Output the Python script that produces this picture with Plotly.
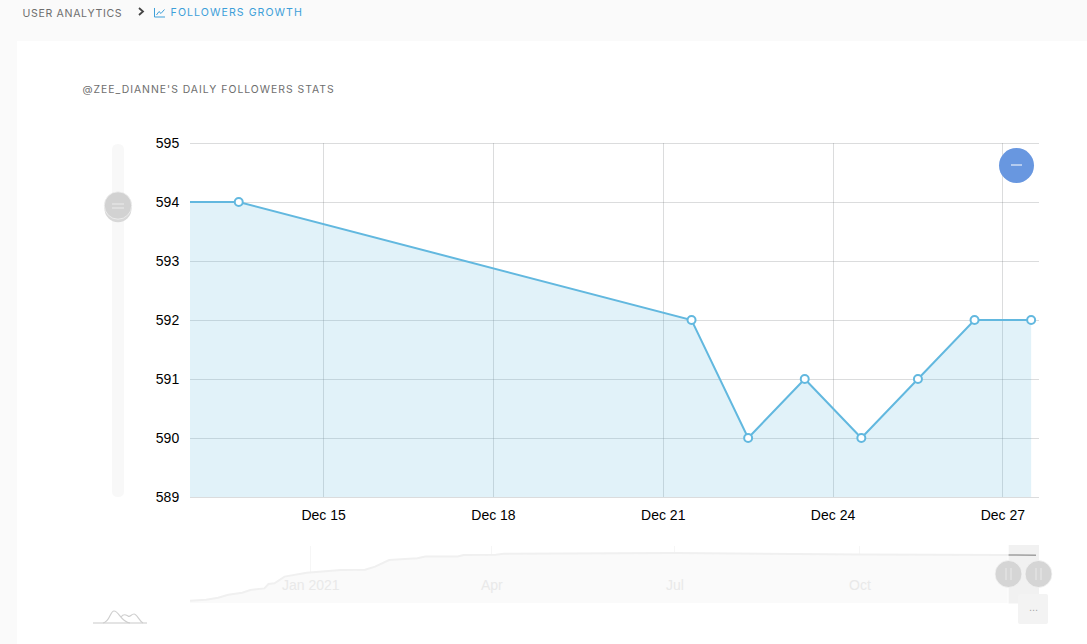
import plotly.graph_objects as go

W, H = 1087, 644

# Main series
dates = ["2021-12-12 12:00", "2021-12-13 12:00", "2021-12-21 12:00", "2021-12-22 12:00",
         "2021-12-23 12:00", "2021-12-24 12:00", "2021-12-25 12:00", "2021-12-26 12:00", "2021-12-27 12:00"]
followers = [594, 594, 592, 590, 591, 590, 591, 592, 592]

# Overview series
overview_dates = ["2020-11-02", "2020-11-10", "2020-11-16", "2020-11-21", "2020-11-28", "2020-12-02",
                  "2020-12-09", "2020-12-11", "2020-12-14", "2020-12-19", "2020-12-30", "2021-01-11",
                  "2021-01-16", "2021-01-28", "2021-02-02", "2021-02-09", "2021-02-23", "2021-02-27",
                  "2021-03-15", "2021-03-18", "2021-04-03", "2021-04-07", "2021-05-16", "2021-07-01",
                  "2021-10-01", "2021-12-14"]
overview_values = [29, 41, 66, 103, 128, 161, 181, 235, 243, 326, 375, 392, 408, 412, 450, 532, 553, 574,
                   574, 594, 598, 610, 615, 618, 600, 594]
overview_tick_vals = ["2021-01-01", "2021-04-01", "2021-07-01", "2021-10-01"]
overview_tick_text = ["Jan 2021", "Apr", "Jul", "Oct"]

GRID = "rgba(110,115,120,0.25)"

def px(x): return x / W
def py(y): return 1 - y / H

fig = go.Figure()
fig.add_trace(go.Scatter(x=dates, y=followers, mode="lines+markers", fill="tozeroy",
                         fillcolor="rgba(96,184,222,0.19)",
                         line=dict(color="#62b8df", width=2),
                         marker=dict(size=8, color="white", line=dict(color="#62b8df", width=2)),
                         cliponaxis=True, xaxis="x", yaxis="y", hoverinfo="skip"))
fig.add_trace(go.Scatter(x=overview_dates, y=overview_values, mode="lines", fill="tozeroy",
                         fillcolor="#fafafa", line=dict(color="#f0f0f0", width=2),
                         xaxis="x2", yaxis="y2", hoverinfo="skip"))
fig.add_trace(go.Scatter(x=dates[1:], y=followers[1:], mode="lines",
                         line=dict(color="#aaaaaa", width=1.5),
                         xaxis="x2", yaxis="y2", hoverinfo="skip"))

def rect(x0, y0, x1, y1, color, layer="above"):
    return dict(type="rect", xref="paper", yref="paper", x0=px(x0), x1=px(x1), y0=py(y1), y1=py(y0),
                fillcolor=color, line_width=0, layer=layer)

def circle(cx, cy, r, color, lw=0, lc="white"):
    return dict(type="circle", xref="paper", yref="paper", x0=px(cx - r), x1=px(cx + r),
                y0=py(cy + r), y1=py(cy - r), fillcolor=color, line=dict(width=lw, color=lc), layer="above")

def seg(x0, y0, x1, y1, color, w=1):
    return dict(type="line", xref="paper", yref="paper", x0=px(x0), x1=px(x1), y0=py(y0), y1=py(y1),
                line=dict(color=color, width=w), layer="above")

def path(points, color, w=1.5, fill=None, layer="above"):
    d = ""
    for cmd, *vals in points:
        d += cmd + " " + " ".join(f"{px(vals[i]):.5f},{py(vals[i+1]):.5f}" for i in range(0, len(vals), 2)) + " "
    return dict(type="path", xref="paper", yref="paper", path=d.strip(),
                line=dict(color=color, width=w), fillcolor=fill, layer=layer)

def rrect(x0, y0, x1, y1, r, color):
    return path([("M", x0 + r, y0), ("L", x1 - r, y0), ("Q", x1, y0, x1, y0 + r), ("L", x1, y1 - r),
                 ("Q", x1, y1, x1 - r, y1), ("L", x0 + r, y1), ("Q", x0, y1, x0, y1 - r), ("L", x0, y0 + r),
                 ("Q", x0, y0, x0 + r, y0), ("Z",)], "rgba(0,0,0,0)", 0, color)

shapes = [
    rect(17, 41, W, H, "white", "below"),
    seg(190, 143.5, 1039, 143.5, GRID, 1),
    seg(190, 497.5, 1039, 497.5, GRID, 1),
    rrect(112, 144, 124, 497, 6, "#f8f8f8"),
    circle(118, 208.8, 13.5, "#d8d8d8"),
    circle(118, 205.5, 13.7, "#d2d2d2", 0.8, "#f0f0f0"),
    seg(112, 204, 124, 204, "#ececec", 1),
    seg(112, 208, 124, 208, "#ececec", 1),
    circle(1016.5, 165.5, 17.5, "#6897e0"),
    seg(1011, 165, 1022, 165, "white", 1),
    rect(1008.5, 545, 1039, 603.5, "rgba(0,0,0,0.055)"),
    seg(1008, 545, 1008, 603.5, "rgba(255,255,255,0.9)", 1),
    circle(1008.5, 574, 13.5, "#d5d5d5", 0.8, "#f4f4f4"),
    circle(1038.5, 574, 13.5, "#d5d5d5", 0.8, "#f4f4f4"),
    seg(1006, 568, 1006, 580, "#e6e6e6", 1.2),
    seg(1011, 568, 1011, 580, "#e6e6e6", 1.2),
    seg(1036, 568, 1036, 580, "#e6e6e6", 1.2),
    seg(1041, 568, 1041, 580, "#e6e6e6", 1.2),
    rrect(1018, 594, 1048, 624, 2, "#f3f3f3"),
    seg(93, 623, 147, 623, "#c9c9c9", 1.2),
    path([("M", 103, 623), ("C", 110, 622, 110, 611, 114, 611), ("C", 119, 611, 121, 622, 130, 623)], "#cfcfcf", 1.2),
    path([("M", 121, 617), ("C", 124, 613, 126, 615, 128, 616), ("C", 130, 618, 131, 614, 134, 614),
          ("C", 137, 614, 139, 621, 143, 623)], "#cfcfcf", 1.2),
    path([("M", 139, 8), ("L", 143, 11.5), ("L", 139, 15)], "#444444", 1.8),
    path([("M", 154.5, 8), ("L", 154.5, 17), ("L", 165, 17)], "#3d9fd9", 1),
    path([("M", 156.5, 15), ("L", 159, 11.5), ("L", 161, 13.5), ("L", 164.5, 9.5)], "#3d9fd9", 1),
]

def note(x, y, text, size, color, family, anchor="left"):
    return dict(xref="paper", yref="paper", x=px(x), y=py(y), text=text, showarrow=False, xanchor=anchor,
                yanchor="middle", font=dict(size=size, color=color, family=family), borderpad=0, borderwidth=0)

annotations = [
    note(26.5, 13.5, "USER ANALYTICS", 10.6, "#6e6e6e", "Inter"),
    note(179, 12.5, "FOLLOWERS GROWTH", 10.6, "#3d9fd9", "Inter"),
    note(99.5, 89.5, "@ZEE_DIANNE'S DAILY FOLLOWERS STATS", 10.4, "#6e6e6e", "Inter"),
    note(1033, 607, "...", 11, "#aaaaaa", "Liberation Sans", "center"),
]

fig.update_layout(
    width=W, height=H, autosize=False, margin=dict(l=0, r=0, t=0, b=0, pad=0),
    paper_bgcolor="#fafafa", plot_bgcolor="rgba(0,0,0,0)", showlegend=False,
    font=dict(family="Liberation Sans", size=14, color="black"),
    shapes=shapes, annotations=annotations,
    xaxis=dict(domain=[px(190), px(1039)], type="date", automargin=False,
               range=["2021-12-12 15:20", "2021-12-27 15:20"],
               tick0="2021-12-15", dtick=3 * 86400000, tickformat="%b %d",
               showgrid=True, gridcolor=GRID, gridwidth=1, showline=False,
               ticks="outside", ticklen=5, tickcolor="rgba(0,0,0,0)", zeroline=False,
               tickfont=dict(size=14, color="black", family="Liberation Sans")),
    yaxis=dict(domain=[py(497), py(143)], range=[589, 595], dtick=1, tick0=589, automargin=False,
               showgrid=True, gridcolor=GRID, gridwidth=1, zeroline=False, showline=False,
               ticks="outside", ticklen=7, tickcolor="rgba(0,0,0,0)",
               tickfont=dict(size=14, color="black", family="Liberation Sans")),
    xaxis2=dict(domain=[px(190), px(1039)], type="date", anchor="free", position=py(574.6), automargin=False,
                range=["2020-11-02", "2021-12-29"],
                tickvals=overview_tick_vals, ticktext=overview_tick_text,
                ticks="", showline=False, zeroline=False,
                showgrid=True, gridcolor="#f6f6f6",
                tickfont=dict(size=14, color="#e9e9e9", family="Liberation Sans")),
    yaxis2=dict(domain=[py(603), py(546)], range=[0, 705], anchor="x2", visible=False, automargin=False),
)
js = """
document.body.style.margin='0';document.body.style.overflow='hidden';
var sp=[0.65,1.05,1.0,0];
document.querySelectorAll('.annotation-text').forEach(function(t,i){t.style.letterSpacing=sp[i]+'px';});
"""
fig.write_html("out.html", config=dict(displayModeBar=False), post_script=js)
